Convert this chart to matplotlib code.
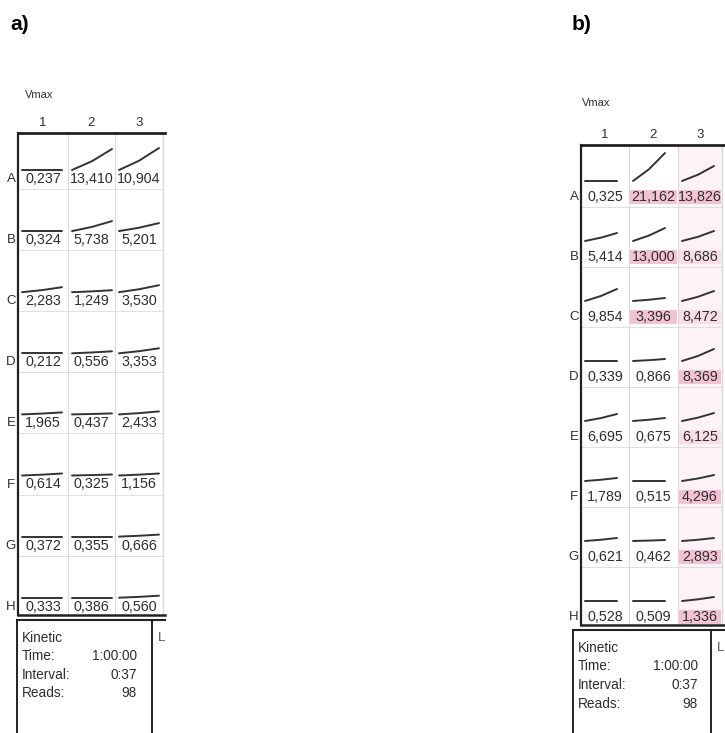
import matplotlib
matplotlib.use("Agg")
import matplotlib.pyplot as plt
from matplotlib.patches import Rectangle

plt.rcParams['font.family'] = ['Liberation Sans', 'DejaVu Sans']

# datos de las dos placas (Vmax por pocillo)
filas = ["A", "B", "C", "D", "E", "F", "G", "H"]
columnas = ["1", "2", "3"]

vmax_a = [[0.237, 13.410, 10.904],
          [0.324, 5.738, 5.201],
          [2.283, 1.249, 3.530],
          [0.212, 0.556, 3.353],
          [1.965, 0.437, 2.433],
          [0.614, 0.325, 1.156],
          [0.372, 0.355, 0.666],
          [0.333, 0.386, 0.560]]

vmax_b = [[0.325, 21.162, 13.826],
          [5.414, 13.000, 8.686],
          [9.854, 3.396, 8.472],
          [0.339, 0.866, 8.369],
          [6.695, 0.675, 6.125],
          [1.789, 0.515, 4.296],
          [0.621, 0.462, 2.893],
          [0.528, 0.509, 1.336]]

# subida de la curva cinetica en cada pocillo
subida_a = [[0, 21, 22], [0, 10, 8], [5, 2, 7], [0, 2, 5],
            [2, 1, 3], [2, 1, 2], [0, 0, 2], [0, 0, 2]]
subida_b = [[0, 28, 15], [8, 13, 10], [12, 3, 10], [0, 2, 12],
            [7, 3, 8], [3, 0, 6], [3, 1, 3], [0, 0, 4]]

# resaltado rosa en b) (0 nada, 1 suave, 2 fuerte)
resalte_b = [[0, 2, 2], [0, 2, 1], [0, 2, 1], [0, 0, 2],
             [0, 0, 1], [0, 0, 2], [0, 0, 2], [0, 0, 2]]

cinetica = [("Time:", "1:00:00"), ("Interval:", "0:37"), ("Reads:", "98")]

TXT = "#2e2e2e"
GRIS = "#dadada"
ROSA = {1: "#f9dee8", 2: "#f3c3d5"}


def formato(v):
    return f"{v:.3f}".replace(".", ",")


def dibujar_placa(ax, etiqueta, pos_et, vmax_xy, bordes_x, y_top, y_fila0, paso,
                  y_fondo, valores, subidas, ancho_traza, off_traza,
                  caja, resalte=None):
    ax.text(pos_et[0], pos_et[1], etiqueta, fontsize=15, fontweight="bold",
            color="black", va="center", ha="left")
    ax.text(vmax_xy[0], vmax_xy[1], "Vmax", fontsize=8, color=TXT, va="center")

    x_izq, x_der = bordes_x[0], bordes_x[-1]
    ys = [y_fila0 + i * paso for i in range(len(filas))]

    # fondo rosa claro de la columna 3 y cajas rosas
    if resalte is not None:
        ax.add_patch(Rectangle((bordes_x[2], y_top), bordes_x[3] - bordes_x[2],
                               y_fondo - y_top, color="#fdf3f6", lw=0, zorder=0))
        for i, y in enumerate(ys):
            for j in range(3):
                nivel = resalte[i][j]
                if nivel:
                    ax.add_patch(Rectangle((bordes_x[j] + 1, y - 7),
                                           bordes_x[j + 1] - bordes_x[j] - 2, 14,
                                           color=ROSA[nivel], lw=0, zorder=1))

    # lineas internas
    for xb in bordes_x[1:-1]:
        ax.plot([xb, xb], [y_top, y_fondo], color=GRIS, lw=0.8, zorder=1)
    ax.plot([x_der, x_der], [y_top, y_fondo], color=GRIS, lw=1.0, zorder=1)
    for y in ys[:-1]:
        ax.plot([x_izq, x_der], [y + 10, y + 10], color=GRIS, lw=0.6, zorder=1)

    # marco
    ax.plot([x_izq, x_der + 2], [y_top, y_top], color="#222222", lw=2.0, zorder=3)
    ax.plot([x_izq, x_izq], [y_top, y_fondo], color="#222222", lw=1.6, zorder=3)
    ax.plot([x_izq, x_der + 2], [y_fondo, y_fondo], color="#222222", lw=1.8, zorder=3)

    # encabezados
    for j, c in enumerate(columnas):
        xc = (bordes_x[j] + bordes_x[j + 1]) / 2
        ax.text(xc, y_top - 10, c, fontsize=9.5, color=TXT, ha="center", va="center")
    for i, f in enumerate(filas):
        ax.text(x_izq - 7, ys[i], f, fontsize=9.5, color=TXT, ha="center", va="center")

    # valores y trazas
    for i, y in enumerate(ys):
        for j in range(3):
            xc = (bordes_x[j] + bordes_x[j + 1]) / 2
            ax.text(xc, y, formato(valores[i][j]), fontsize=10.3, color=TXT,
                    ha="center", va="center", zorder=4)
            x0 = bordes_x[j] + 4
            y0 = y - off_traza
            s = subidas[i][j]
            ax.plot([x0, x0 + ancho_traza * 0.5, x0 + ancho_traza],
                    [y0, y0 - s * 0.42, y0 - s], color="#333333", lw=1.4,
                    solid_capstyle="round", zorder=4)

    # caja de cinetica
    cx0, cy0, cx1, xval, y_txt, paso_txt = caja
    ax.plot([cx0, x_der + 2], [cy0, cy0], color="#222222", lw=1.5)
    ax.plot([cx0, cx0], [cy0, 733], color="#222222", lw=1.4)
    ax.plot([cx1, cx1], [cy0, 733], color="#222222", lw=1.4)
    ax.text(cx1 + 6, y_txt, "L", fontsize=9.5, color="#555555", va="center")
    ax.text(cx0 + 5, y_txt, "Kinetic", fontsize=9.8, color=TXT, va="center")
    for k, (nombre, val) in enumerate(cinetica):
        yk = y_txt + (k + 1) * paso_txt
        ax.text(cx0 + 5, yk, nombre, fontsize=9.8, color=TXT, va="center")
        ax.text(xval, yk, val, fontsize=9.8, color=TXT, va="center", ha="right")


fig = plt.figure(figsize=(7.25, 7.33), dpi=100)
ax = fig.add_axes([0, 0, 1, 1])
ax.set_xlim(0, 725)
ax.set_ylim(733, 0)
ax.axis("off")

dibujar_placa(ax, "a)", (10, 25), (25, 95), [18, 68, 115, 163], 133, 179, 61.1,
              615, vmax_a, subida_a, 40, 9,
              (17, 620, 152, 137, 638, 18.3))

dibujar_placa(ax, "b)", (572, 25), (582, 103), [581, 629, 678, 722], 145, 197, 60.0,
              625, vmax_b, subida_b, 32, 16,
              (573, 630, 711, 698, 648, 18.5), resalte=resalte_b)

fig.savefig("out.png", dpi=100)
